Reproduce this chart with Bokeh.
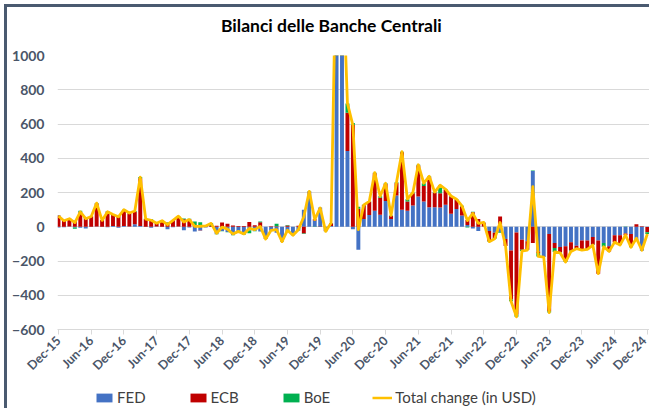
import math
import numpy as np
from bokeh.plotting import figure
from bokeh.layouts import column
from bokeh.models import ColumnDataSource, Range1d, FixedTicker, Legend, LegendItem, Label
from bokeh.embed import file_html
from bokeh.resources import INLINE

title_text = "Bilanci delle Banche Centrali"
tick_labels = ["Dec-15", "Jun-16", "Dec-16", "Jun-17", "Dec-17", "Jun-18", "Dec-18",
               "Jun-19", "Dec-19", "Jun-20", "Dec-20", "Jun-21", "Dec-21", "Jun-22",
               "Dec-22", "Jun-23", "Dec-23", "Jun-24", "Dec-24"]

# monthly changes, Dec-15 .. Dec-24 (bn USD)
fed = [-5, -3, 2, -4, -6, -10, -2, 2, -2, -3, 4, -6, 5, 2, 15, 5, -2, -6, 2, -2,
       -14, -3, 2, -20, -4, -28, -22, -4, -2, -42, -25, -30, -48, -30, -44, -22, -24, -28, -66, -24,
       -35, -84, -30, -45, -22, 100, 200, 36, 112, -20, 4, 1550, 1400, 442, -14, -134, 45, 68, 93, 70,
       150, 45, 182, 99, 93, 124, 176, 147, 114, 114, 112, 128, 76, 103, 66, 10, -10, -25, 2, -25,
       -35, -30, -72, -138, -33, -76, -85, 326, -144, -177, -43, -95, -118, -114, -91, -111, -80, -80, -60, -80,
       -95, -114, -50, -50, -40, -43, -80, -140, -2]
ecb = [65, 38, 45, 35, 85, 55, 62, 134, 39, 88, 68, 62, 92, 76, 72, 278, 45, 40, 18, 37,
       24, 40, 58, 44, 44, 8, -2, 6, 4, 6, 25, 18, 8, 5, 4, 28, 9, 26, -4, 3,
       3, -2, 8, -3, 6, -40, 4, 8, -1, -5, 16, 130, 180, 223, 594, 105, 80, 78, 220, 100,
       100, 18, 74, 336, 54, 72, 182, 91, 178, 85, 83, 87, 101, 54, 52, 30, 85, 45, 22, -60,
       -30, 60, -40, -287, -479, -58, -48, -95, -10, 0, -450, -29, -31, -87, -48, -14, -54, -50, -45, -194,
       0, -30, -40, -55, -10, -75, 15, 3, -30]
boe = [2, 0, 0, -7, 8, 2, 0, 2, 0, 3, 0, 2, 3, 2, 5, 7, 2, 4, 0, 0,
       2, 0, 2, 4, 2, 22, 27, 3, 18, -2, -2, -2, -2, -2, -2, -16, -2, 4, -2, 0,
       15, -1, 2, -2, -1, -2, 3, -2, -1, -2, 2, 50, 40, 55, 12, 12, 3, 2, 3, 8,
       4, 3, 4, 3, 14, 4, 4, 16, 3, 3, 48, 4, 3, 4, 4, -4, 3, 0, 1, -2,
       -5, -5, 0, -10, -14, -8, -3, 3, -19, 0, -8, -23, -3, -5, -5, -3, -2, -2, -2, 0,
       -22, 0, 0, -2, 2, -2, -2, 0, -10]

series_names = ["FED", "ECB", "BoE"]
series_colors = ["#4472C4", "#C00000", "#00B050"]
line_name = "Total change (in USD)"
line_color = "#FFC000"

n = len(fed)
x = np.arange(n)
total = np.array(fed, float) + np.array(ecb, float) + np.array(boe, float)

W = 642

# title strip
tf = figure(width=W, height=40, output_backend="svg", toolbar_location=None,
            x_range=Range1d(0, W), y_range=Range1d(0, 40),
            min_border_left=0, min_border_right=0, min_border_top=0, min_border_bottom=0)
tf.axis.visible = False
tf.grid.grid_line_color = None
tf.outline_line_color = None
tf.add_layout(Label(x=297, y=22, text=title_text, text_align="center", text_baseline="middle",
                    text_font="Lato", text_font_size="17.5px", text_font_style="bold",
                    text_color="#000000"))

# main chart
p = figure(width=W, height=334, output_backend="svg", toolbar_location=None,
           x_range=Range1d(-0.18, 108.4), y_range=Range1d(-600, 1000),
           min_border_left=50, min_border_right=0, min_border_top=8, min_border_bottom=51)

pos = np.zeros(n)
neg = np.zeros(n)
for name, vals, col in zip(series_names, [fed, ecb, boe], series_colors):
    v = np.array(vals, float)
    bottom = np.where(v >= 0, pos, neg)
    top = bottom + v
    pos = np.where(v >= 0, top, pos)
    neg = np.where(v < 0, top, neg)
    src = ColumnDataSource(dict(x=x, top=top, bottom=bottom))
    p.vbar(x="x", top="top", bottom="bottom", width=0.72, fill_color=col,
           line_color=None, source=src)

p.line(x, total, line_color=line_color, line_width=2.8, line_join="round")

p.outline_line_color = None
p.xgrid.grid_line_color = None
p.ygrid.grid_line_color = "#d9d9d9"
p.ygrid.grid_line_width = 1

p.yaxis.ticker = FixedTicker(ticks=list(range(-600, 1001, 200)))
p.yaxis.axis_line_color = None
p.yaxis.major_tick_line_color = None
p.yaxis.minor_tick_line_color = None
p.yaxis.major_label_text_font = "Lato"
p.yaxis.major_label_text_font_style = "bold"
p.yaxis.major_label_text_font_size = "14px"
p.yaxis.major_label_text_color = "#4a5568"
p.yaxis.major_label_standoff = 7

xt = list(range(0, n, 6))
p.xaxis.ticker = FixedTicker(ticks=xt)
p.xaxis.major_label_overrides = {t: lab for t, lab in zip(xt, tick_labels)}
p.xaxis.major_label_orientation = math.pi / 4
p.xaxis.axis_line_color = "#d9d9d9"
p.xaxis.major_tick_line_color = "#d9d9d9"
p.xaxis.major_tick_out = 5
p.xaxis.major_tick_in = 0
p.xaxis.minor_tick_line_color = None
p.xaxis.major_label_text_font = "Lato"
p.xaxis.major_label_text_font_style = "bold"
p.xaxis.major_label_text_font_size = "12.5px"
p.xaxis.major_label_text_color = "#4a5568"
p.xaxis.major_label_standoff = 4

# legend strip below the chart (its dummy glyphs lie outside the visible range)
lg = figure(width=W, height=27, output_backend="svg", toolbar_location=None,
            x_range=Range1d(0, 1), y_range=Range1d(0, 1),
            min_border_left=0, min_border_right=0, min_border_top=0, min_border_bottom=0)
lg.axis.visible = False
lg.grid.grid_line_color = None
lg.outline_line_color = None
items = []
for nm, col in zip(series_names, series_colors):
    r = lg.vbar(x=[5], top=[6], bottom=[5], width=0.5, fill_color=col, line_color=None)
    items.append(LegendItem(label=nm, renderers=[r]))
rl = lg.line(x=[5, 6], y=[5, 5], line_color=line_color, line_width=2.5)
items.append(LegendItem(label=line_name, renderers=[rl]))
legend = Legend(items=items, orientation="horizontal", location=(37, 2),
                glyph_width=20, glyph_height=11, spacing=42, label_standoff=3,
                label_text_font="Lato", label_text_font_size="15px",
                label_text_color="#404040", border_line_color=None,
                background_fill_alpha=0, padding=2, margin=0)
lg.add_layout(legend, "center")

layout = column(tf, p, lg, spacing=0,
                styles={"border-top": "3px solid #4a5a70", "border-left": "3px solid #4a5a70",
                        "margin-left": "4px", "margin-top": "4px"})
open("out.html", "w").write(file_html(layout, INLINE))
